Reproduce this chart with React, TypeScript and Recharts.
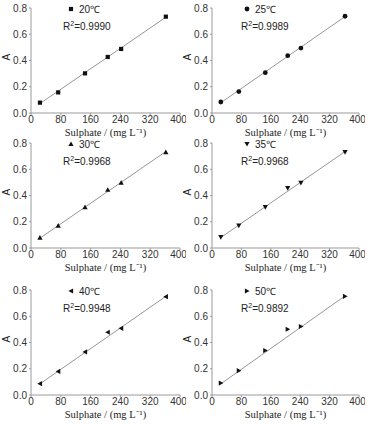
import React from "react";
import {
  ComposedChart,
  Scatter,
  Line,
  XAxis,
  YAxis,
} from "recharts";

const sulphate = [24, 73, 145, 206, 242, 362];
const xTicks = [0, 80, 160, 240, 320, 400];
const yTicks = [0, 0.2, 0.4, 0.6, 0.8];

const temps = ["20℃", "25℃", "30℃", "35℃", "40℃", "50℃"];
const r2 = ["0.9990", "0.9989", "0.9968", "0.9968", "0.9948", "0.9892"];
const shapes = ["square", "circle", "triangle", "down", "left", "right"];

const abs20 = [0.079, 0.157, 0.302, 0.427, 0.488, 0.734];
const abs25 = [0.084, 0.163, 0.307, 0.437, 0.495, 0.737];
const abs30 = [0.079, 0.17, 0.312, 0.444, 0.498, 0.731];
const abs35 = [0.083, 0.171, 0.312, 0.456, 0.496, 0.73];
const abs40 = [0.086, 0.18, 0.328, 0.478, 0.508, 0.749];
const abs50 = [0.091, 0.185, 0.339, 0.501, 0.522, 0.752];
const absorbance = [abs20, abs25, abs30, abs35, abs40, abs50];

// fitted line ends (start at first x, end at last x)
const fitStart = [0.072, 0.078, 0.075, 0.08, 0.085, 0.085];
const fitEnd = [0.73, 0.735, 0.735, 0.735, 0.752, 0.755];

const AXIS = "#9a9a9a";
const SANS = "Liberation Sans, Arial, sans-serif";
const SERIF = "Liberation Serif, Times New Roman, serif";

function Marker(props: any) {
  const { cx, cy, kind } = props;
  if (cx == null || cy == null) return null;
  const s = 2.1;
  const fill = "#111";
  if (kind === "square")
    return <rect x={cx - s} y={cy - s} width={s * 2} height={s * 2} fill={fill} />;
  if (kind === "circle") return <circle cx={cx} cy={cy} r={s + 0.3} fill={fill} />;
  let pts = "";
  if (kind === "triangle") pts = `${cx},${cy - s - 0.5} ${cx - s - 0.5},${cy + s} ${cx + s + 0.5},${cy + s}`;
  if (kind === "down") pts = `${cx},${cy + s + 0.5} ${cx - s - 0.5},${cy - s} ${cx + s + 0.5},${cy - s}`;
  if (kind === "left") pts = `${cx - s - 0.5},${cy} ${cx + s},${cy - s - 0.5} ${cx + s},${cy + s + 0.5}`;
  if (kind === "right") pts = `${cx + s + 0.5},${cy} ${cx - s},${cy - s - 0.5} ${cx - s},${cy + s + 0.5}`;
  return <polygon points={pts} fill={fill} />;
}

function Panel({ i, left, top }: { i: number; left: number; top: number }) {
  const width = i % 2 === 0 ? 186 : 184;
  const pts = sulphate.map((x, k) => ({ x, y: absorbance[i][k] }));
  const fit = [
    { x: sulphate[0], y: fitStart[i] },
    { x: sulphate[sulphate.length - 1], y: fitEnd[i] },
  ];
  const legX = i % 2 === 0 ? 71 : 66;
  const r2X = i % 2 === 0 ? 63 : 60;
  return (
    <div style={{ position: "absolute", left, top, width, height: 141 }}>
      <ComposedChart
        width={width}
        height={141}
        margin={{ top: 8, right: 6, bottom: 0, left: 9 }}
      >
        <XAxis
          type="number"
          dataKey="x"
          domain={[0, 400]}
          ticks={xTicks}
          height={28}
          stroke={AXIS}
          tickSize={2}
          tickMargin={1}
          tick={{ fontSize: 10, fill: "#333", fontFamily: SANS }}
          label={{
            value: "Sulphate  /  (mg L⁻¹)",
            position: "insideBottom",
            offset: 5,
            style: { fontSize: 10.5, fill: "#222", fontFamily: SERIF },
          }}
        />
        <YAxis
          type="number"
          dataKey="y"
          domain={[0, 0.8]}
          ticks={yTicks}
          width={22}
          stroke={AXIS}
          tickSize={2}
          tickMargin={2}
          tickFormatter={(v: number) => v.toFixed(1)}
          tick={{ fontSize: 10, fill: "#333", fontFamily: SANS }}
          label={{
            value: "A",
            angle: -90,
            position: "insideLeft",
            offset: -3,
            style: { fontSize: 10, fill: "#222", fontFamily: SANS },
          }}
        />
        <Line
          data={fit}
          dataKey="y"
          type="linear"
          stroke="#8a8a8a"
          strokeWidth={0.9}
          dot={false}
          isAnimationActive={false}
        />
        <Scatter
          data={pts}
          dataKey="y"
          isAnimationActive={false}
          shape={(p: any) => <Marker {...p} kind={shapes[i]} />}
        />
      </ComposedChart>
      <svg
        style={{ position: "absolute", left: 0, top: 0, pointerEvents: "none" }}
        width={width}
        height={141}
      >
        <Marker cx={legX} cy={9} kind={shapes[i]} />
        <text x={legX + 8} y={12.5} fontSize={10} fill="#222" fontFamily={SANS}>
          {temps[i]}
        </text>
        <text x={r2X} y={29.5} fontSize={10} fill="#222" fontFamily={SANS}>
          R<tspan dy={-4} fontSize={7}>2</tspan>
          <tspan dy={4}>={r2[i]}</tspan>
        </text>
      </svg>
    </div>
  );
}

export default function App() {
  const rows = [0, 135, 282];
  return (
    <div
      style={{
        position: "absolute",
        left: 0,
        top: 0,
        width: 372,
        height: 424,
        background: "#fff",
      }}
    >
      {temps.map((_, i) => (
        <Panel
          key={i}
          i={i}
          left={i % 2 === 0 ? 0 : 181}
          top={rows[Math.floor(i / 2)]}
        />
      ))}
    </div>
  );
}
